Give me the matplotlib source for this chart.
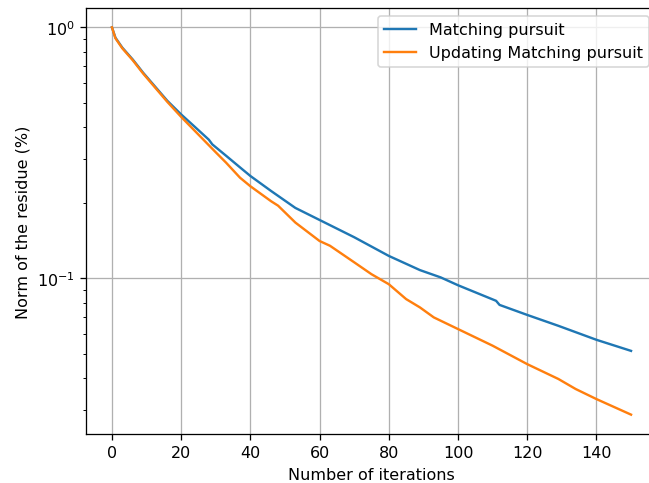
import matplotlib
matplotlib.use("Agg")
import matplotlib.pyplot as plt

# residue norm (log scale)
mp_iter = [0, 1, 3, 6, 9, 16, 20, 24, 28, 29, 33, 37, 40, 46, 53, 60,
           70, 80, 89, 95, 100, 111, 112, 120, 129, 140, 150]
mp_vals = [1.0, 0.91, 0.83, 0.745, 0.66, 0.51, 0.45, 0.401, 0.357, 0.342,
           0.308, 0.277, 0.256, 0.223, 0.191, 0.171, 0.146, 0.123, 0.108,
           0.101, 0.094, 0.0815, 0.0785, 0.0716, 0.0648, 0.057, 0.0515]

ump_iter = [0, 1, 3, 6, 9, 16, 20, 25, 30, 33, 37, 40, 46, 48, 53, 60, 63,
            70, 75, 80, 85, 89, 93, 100, 110, 120, 129, 134, 140, 150]
ump_vals = [1.0, 0.905, 0.825, 0.74, 0.655, 0.505, 0.44, 0.374, 0.318,
            0.289, 0.252, 0.233, 0.203, 0.195, 0.167, 0.141, 0.135, 0.116,
            0.104, 0.0949, 0.0828, 0.0767, 0.070, 0.0629, 0.054, 0.0456,
            0.0398, 0.0363, 0.0331, 0.0287]

DPI = 115
fig = plt.figure(figsize=(649 / DPI, 484 / DPI), dpi=DPI)
# axes run past the right edge, as in the cropped reference
ax = fig.add_axes([86 / 649, 49 / 484, 571 / 649, 426 / 484])

ax.semilogy(mp_iter, mp_vals, label="Matching pursuit")
ax.semilogy(ump_iter, ump_vals, label="Updating Matching pursuit")
ax.set_xlabel("Number of iterations")
ax.set_ylabel("Norm of the residue (%)")
ax.grid(True)
ax.legend(loc="upper right")

fig.savefig("out.png", dpi=DPI)
